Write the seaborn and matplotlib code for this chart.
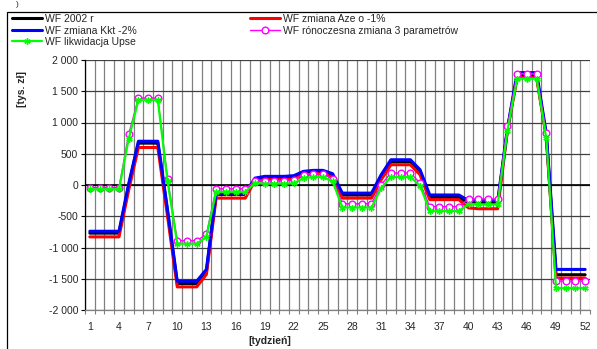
import matplotlib
matplotlib.use("Agg")
import matplotlib.pyplot as plt
import seaborn as sns
import pandas as pd
from matplotlib.ticker import FuncFormatter, FixedLocator
from matplotlib.patches import Rectangle
from matplotlib.lines import Line2D

weeks = list(range(1, 53))
tick_weeks = list(range(1, 53, 3))

wf_2002 = [-770, -770, -770, -770, -10, 670, 670, 670, -430, -1575, -1575, -1575, -1390,
           -150, -150, -150, -150, 90, 112, 112, 112, 122, 181, 202, 202, 149,
           -160, -160, -160, -160, 135, 372, 372, 372, 215, -200, -200, -200, -200,
           -287, -290, -290, -290, 890, 1745, 1745, 1745, 790, -1436, -1436, -1436, -1436]
wf_aze = [-830, -830, -830, -830, -80, 600, 600, 600, -500, -1630, -1630, -1630, -1430,
          -210, -210, -210, -210, 70, 85, 85, 85, 96, 160, 181, 181, 128,
          -210, -210, -210, -210, 85, 324, 324, 324, 165, -234, -234, -234, -234,
          -367, -380, -380, -380, 880, 1718, 1718, 1718, 770, -1489, -1489, -1489, -1489]
wf_kkt = [-740, -740, -740, -740, 20, 700, 700, 700, -400, -1540, -1540, -1540, -1350,
          -130, -130, -130, -130, 110, 138, 138, 138, 149, 218, 234, 234, 181,
          -130, -130, -130, -130, 165, 404, 404, 404, 245, -160, -160, -160, -160,
          -250, -250, -250, -250, 900, 1798, 1798, 1798, 820, -1351, -1351, -1351, -1351]
wf_3par = [-40, -40, -40, -40, 810, 1390, 1390, 1390, 100, -890, -890, -890, -790,
           -60, -60, -60, -60, 60, 68, 68, 68, 85, 165, 181, 181, 96,
           -300, -300, -300, -300, 5, 191, 191, 191, 32, -345, -345, -345, -345,
           -223, -223, -223, -223, 947, 1782, 1782, 1782, 830, -1537, -1537, -1537, -1537]
wf_upse = [-70, -70, -70, -70, 740, 1360, 1360, 1360, 60, -940, -940, -940, -830,
           -110, -110, -110, -110, 30, 21, 21, 21, 25, 112, 128, 128, 58,
           -360, -360, -360, -360, -48, 128, 128, 128, -11, -415, -415, -415, -415,
           -303, -310, -310, -310, 867, 1702, 1702, 1702, 745, -1649, -1649, -1649, -1649]

labels = ["WF 2002 r", "WF zmiana Aze o -1%", "WF zmiana Kkt -2%",
          "WF rónoczesna zmiana 3 parametrów", "WF likwidacja Upse"]

sns.set_style("white")
plt.rcParams['font.family'] = ['Liberation Sans', 'DejaVu Sans']

fig = plt.figure(figsize=(5.97, 3.49), dpi=100)
ax = fig.add_axes([85/597, 39/349, 505/597, 250/349])

styles = [
    dict(color="#000000", lw=2.2),
    dict(color="#FF0000", lw=2.2),
    dict(color="#0000FF", lw=2.2),
    dict(color="#FF00FF", lw=1.0, marker="o", markersize=4.8,
         markerfacecolor="white", markeredgecolor="#FF00FF", markeredgewidth=1.0),
    dict(color="#00FF00", lw=1.6, marker=(6, 2, 0), markersize=4.5,
         markeredgecolor="#00FF00", markeredgewidth=1.0),
]
series = [wf_2002, wf_aze, wf_kkt, wf_3par, wf_upse]
handles = []
for vals, lab, st in zip(series, labels, styles):
    df = pd.DataFrame({"week": weeks, "val": vals})
    sns.lineplot(data=df, x="week", y="val", ax=ax, legend=False, zorder=3, **st)
    handles.append(Line2D([], [], label=lab, **st))

ax.set_xlim(0.5, 52.5)
ax.set_ylim(-2000, 2000)
ax.set_yticks(range(-2000, 2001, 500))
ax.yaxis.set_major_formatter(FuncFormatter(
    lambda v, p: ("-" if v < 0 else "") + f"{abs(int(v)):,}".replace(",", " ")))
ax.xaxis.set_major_locator(FixedLocator(tick_weeks))
ax.xaxis.set_minor_locator(FixedLocator([w + 0.5 for w in range(0, 53)]))
ax.set_xticklabels([str(w) for w in tick_weeks])

ax.grid(False)
ax.grid(axis="y", which="major", color="#404040", lw=0.9)
ax.grid(axis="x", which="minor", color="#808080", lw=0.9)
ax.axhline(0, color="black", lw=1.2, zorder=2)

ax.tick_params(axis="y", which="major", length=3, width=0.8, pad=2, labelsize=7.5,
               left=True, direction="out", color="black")
ax.tick_params(axis="x", which="major", length=0, pad=9, labelsize=7.5)
ax.tick_params(axis="x", which="minor", length=3, width=0.8, direction="out",
               bottom=True, color="#808080")

for s in ["top", "right"]:
    ax.spines[s].set_visible(False)
ax.spines["left"].set_color("black")
ax.spines["left"].set_linewidth(0.9)
ax.spines["bottom"].set_color("#808080")
ax.spines["bottom"].set_linewidth(0.9)

ax.set_ylabel("[tys. zł]", fontsize=7.5, fontweight="bold")
ax.yaxis.set_label_coords(-0.115, 0.884)
ax.set_xlabel("[tydzień]", fontsize=7.5, fontweight="bold")
ax.xaxis.set_label_coords(0.366, -0.102)

leg_kw = dict(frameon=False, fontsize=7.5, handlelength=2.9, handletextpad=0.25,
              labelspacing=0.15, borderpad=0, borderaxespad=0)
leg1 = fig.legend(handles=[handles[0], handles[2], handles[4]],
                  loc="upper left", bbox_to_anchor=(12/597, 1 - 14/349), **leg_kw)
leg2 = fig.legend(handles=[handles[1], handles[3]],
                  loc="upper left", bbox_to_anchor=(250/597, 1 - 14/349), **leg_kw)

fig.patches.append(Rectangle((7/597, -0.05), 1.2, 1 - 12/349 + 0.05,
                             transform=fig.transFigure, fill=False,
                             edgecolor="black", lw=0.9, clip_on=False))
fig.text(16/597, 1 - 5/349, ")", fontsize=6, ha="left", va="center")

fig.savefig("out.png", dpi=100)
